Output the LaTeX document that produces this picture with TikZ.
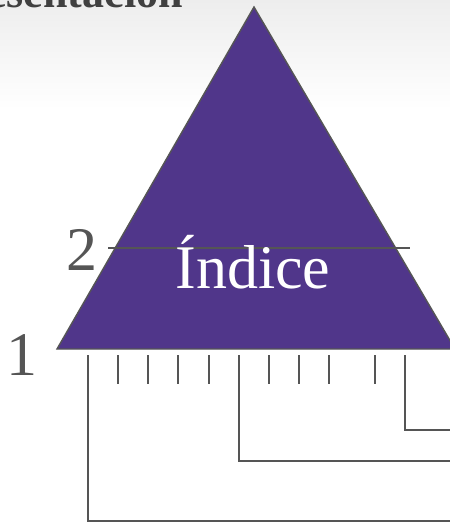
\documentclass[tikz,border=0pt]{standalone}
\usepackage{fontspec}
\setmainfont{Liberation Serif}
\definecolor{tripurple}{RGB}{80,54,138}
\definecolor{linegray}{RGB}{85,85,85}
\begin{document}
\begin{tikzpicture}[x=1pt,y=-1pt,
  ln/.style={draw=linegray,line width=1.6pt},
  tick/.style={draw=linegray,line width=1.6pt},
  numlbl/.style={text=linegray,font=\fontsize{62}{62}\selectfont,inner sep=0pt}]
\useasboundingbox (0,0) rectangle (450,523);
\clip (0,0) rectangle (450,523);
\fill[white] (0,0) rectangle (450,523);
\shade[top color=black!7,bottom color=white] (0,0) rectangle (450,110);
% cut-off title
\node[anchor=base east,inner sep=0pt,text=black!75,font=\bfseries\fontsize{44}{44}\selectfont] (title) at (183,7) {resentación};
% triangle
\coordinate (apex) at (254,7);
\coordinate (bl) at (57,349);
\coordinate (br) at (455,349);
\fill[tripurple,draw=linegray,line width=1.4pt] (apex) -- (bl) -- (br) -- cycle;
% level line
\coordinate (l2a) at (108,248);
\coordinate (l2b) at (410,248);
\draw[ln] (l2a) -- (l2b);
\node[anchor=base,text=white,inner sep=0pt,font=\fontsize{62}{62}\selectfont] (idx) at (253,288) {Índice};
\node[numlbl,anchor=base] (n2) at (82,270) {2};
\node[numlbl,anchor=base] (n1) at (22,375) {1};
% ticks
\foreach \x in {118,148,178,209,269,299,329,375}{
  \draw[tick] (\x,355) -- (\x,384);
}
% brackets
\coordinate (a0) at (88,355);
\coordinate (a1) at (88,521);
\coordinate (a2) at (452,521);
\draw[ln] (a0) -- (a1) -- (a2);
\coordinate (b0) at (239,355);
\coordinate (b1) at (239,461);
\coordinate (b2) at (452,461);
\draw[ln] (b0) -- (b1) -- (b2);
\coordinate (c0) at (405,355);
\coordinate (c1) at (405,430);
\coordinate (c2) at (452,430);
\draw[ln] (c0) -- (c1) -- (c2);
\end{tikzpicture}
\end{document}
